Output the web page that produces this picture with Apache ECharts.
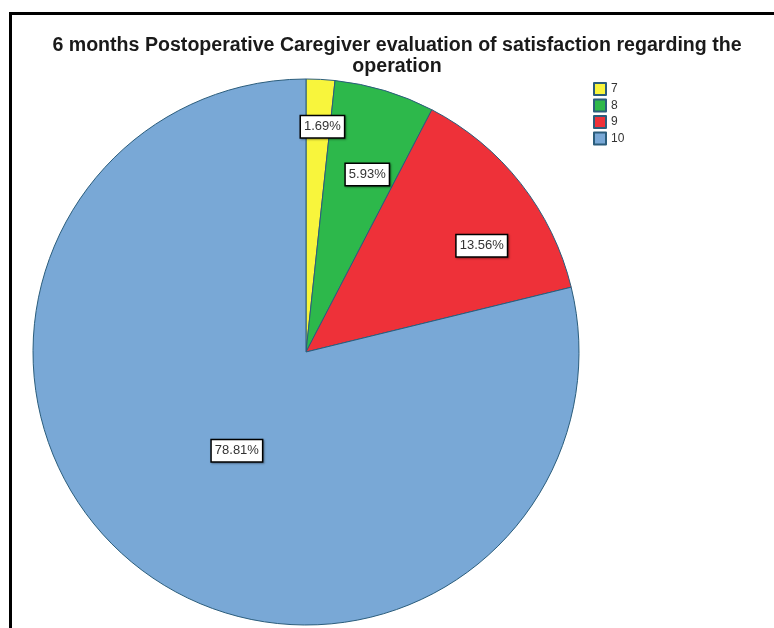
<!DOCTYPE html>
<html>
<head>
<meta charset="utf-8">
<script src="https://cdn.jsdelivr.net/npm/echarts@6/dist/echarts.min.js"></script>
<style>
  html, body { margin: 0; padding: 0; background: #fff; }
  #chart { width: 774px; height: 628px; }
</style>
</head>
<body>
<div id="chart"></div>
<script>
// satisfaction scores and number of caregivers (n = 118)
const categories = ['7', '8', '9', '10'];
const counts = [2, 7, 16, 93];
const colors = ['#f8f53c', '#2db84b', '#ee3139', '#79a8d6'];

// nudge the labels out from the default half-radius spot, as SPSS does
const labelOffsets = [[9, -86], [21, -44], [66, -20], [17, -11]];

const total = counts.reduce((a, b) => a + b, 0);

const chart = echarts.init(document.getElementById('chart'));

const option = {
  animation: false,
  backgroundColor: '#fff',
  title: {
    text: '6 months Postoperative Caregiver evaluation of satisfaction regarding the\noperation',
    left: 392,
    top: 30,
    textAlign: 'center',
    textStyle: {
      fontFamily: 'Liberation Sans, Arial, sans-serif',
      fontSize: 19.6,
      fontWeight: 'bold',
      color: '#1a1a1a',
      lineHeight: 21
    }
  },
  legend: {
    orient: 'vertical',
    left: 593,
    top: 82,
    padding: 0,
    itemWidth: 12,
    itemHeight: 12,
    itemGap: 2.5,
    icon: 'rect',
    data: categories,
    textStyle: {
      fontFamily: 'Liberation Sans, Arial, sans-serif',
      fontSize: 12,
      color: '#333'
    }
  },
  graphic: [
    { type: 'line', shape: { x1: 9, y1: 13.5, x2: 774, y2: 13.5 }, style: { stroke: '#000', lineWidth: 3 } },
    { type: 'line', shape: { x1: 10.5, y1: 12, x2: 10.5, y2: 628 }, style: { stroke: '#000', lineWidth: 3 } }
  ],
  series: [{
    type: 'pie',
    center: [306, 352],
    radius: 273,
    startAngle: 90,
    clockwise: true,
    avoidLabelOverlap: false,
    emphasis: { disabled: true },
    itemStyle: {
      borderColor: '#2b5d7c',
      borderWidth: 1
    },
    labelLine: { show: false },
    label: {
      show: true,
      position: 'inside',
      formatter: p => (p.value / total * 100).toFixed(2) + '%',
      fontFamily: 'Liberation Sans, Arial, sans-serif',
      fontSize: 13,
      color: '#333',
      backgroundColor: '#fff',
      borderColor: '#000',
      borderWidth: 1.5,
      padding: [4, 3, 4, 3],
      shadowColor: 'rgba(0,0,0,0.35)',
      shadowBlur: 2,
      shadowOffsetX: 1,
      shadowOffsetY: 1
    },
    data: categories.map((c, i) => ({
      name: c,
      value: counts[i],
      itemStyle: { color: colors[i] },
      label: { offset: labelOffsets[i] }
    }))
  }]
};

chart.setOption(option);
</script>
</body>
</html>
